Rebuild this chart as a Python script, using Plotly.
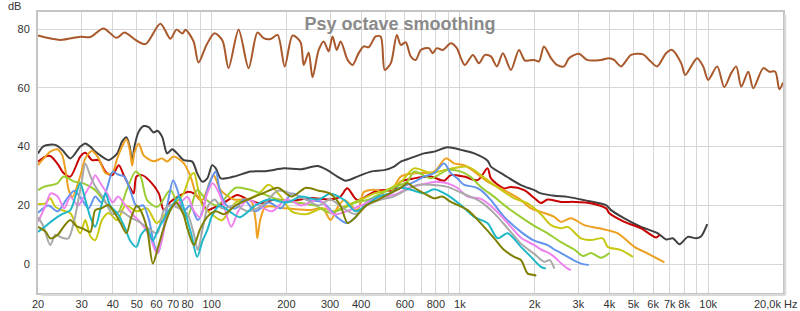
import math
import plotly.graph_objects as go

# ---------------- data (Hz, dB) ----------------
brown_f = [20, 24.6, 29.6, 32.5, 36.7, 41.4, 44.6, 49.4, 54.2, 62.2, 68.3, 72.2, 76.4, 78.5, 84.6, 88.6, 95.4, 102.8, 110.7, 117,
           128.5, 141, 153, 162, 173, 184.5, 197, 212, 228, 235, 246, 255, 270, 283, 296, 307, 319, 331, 353, 370,
           391, 410, 429, 458, 480, 498, 527, 557, 578, 605, 634, 664, 696, 750, 778, 807, 854, 919, 972, 1009,
           1047, 1128, 1193, 1261, 1333, 1409, 1490, 1605, 1729, 1828, 1987, 2082, 2180, 2326, 2460, 2626, 2750, 3018, 3250, 3702,
           3988, 4176, 4457, 4890, 5466, 5780, 6224, 6766, 7154, 7780, 8072, 8536, 9024, 9540, 9994, 10868, 11598, 12374, 12964, 13580,
           14494, 15180, 16660, 17612, 18622, 19326, 20000]
brown_db = [77.8, 76.3, 77.4, 77.3, 80.2, 77.0, 78.8, 76.3, 74.9, 81.8, 76.7, 79.8, 78.5, 79.8, 75.8, 68.6, 74.6, 78.6, 76.0, 66.7,
            79.8, 66.7, 78.8, 76.9, 76.6, 78.0, 67.3, 77.8, 75.6, 67.8, 72.0, 63.6, 72.9, 75.8, 72.4, 77.5, 72.9, 75.8, 69.5, 67.8,
            71.8, 74.1, 73.8, 77.5, 77.4, 66.1, 68.4, 78.0, 74.6, 75.5, 70.7, 69.5, 72.9, 73.5, 71.8, 73.5, 72.9, 75.2, 73.5, 70.1,
            67.8, 71.2, 68.4, 71.2, 70.7, 67.3, 71.8, 66.1, 72.9, 69.3, 69.5, 69.0, 74.1, 70.1, 67.8, 67.3, 70.1, 71.6, 69.5, 69.5,
            70.1, 69.5, 67.3, 71.2, 71.4, 69.5, 67.3, 71.8, 72.9, 68.4, 64.4, 67.3, 70.1, 67.3, 62.7, 67.3, 60.2, 65.0, 67.3, 60.4,
            65.5, 59.9, 66.7, 65.5, 65.5, 59.5, 61.8]

dark_f = [20, 21.1, 23.5, 25.0, 27.0, 29.6, 31.0, 32.5, 34.0, 36.2, 38.5, 41.7, 43.6, 45.4, 46.8, 47.9, 48.9, 50.9, 53.3, 55.8,
          58.5, 60.4, 63.2, 66.2, 69.4, 72.7, 77.3, 83.6, 87.5, 91.7, 96.1, 100.6, 104, 109, 123, 143.6, 167.6, 195.6, 228, 266.7,
          292.6, 321, 346.8, 386.6, 437.7, 495, 543, 578, 615, 717, 787, 892, 1009, 1142, 1293, 1333, 1508, 1761, 1993, 2120,
          2399, 2718, 3170, 3878, 4063, 4594, 5366, 6267, 6766, 7202, 7656, 8278, 8942, 9368, 9905]
dark_db = [37.7, 40.2, 40.6, 38.9, 36.0, 40.0, 41.1, 40.0, 38.3, 36.6, 35.4, 37.7, 41.7, 43.2, 40.0, 34.9, 40.0, 45.1, 47.0, 46.6,
           44.8, 45.4, 43.4, 37.7, 39.1, 37.7, 35.4, 34.9, 30.9, 28.1, 29.2, 33.7, 32.6, 29.2, 29.8, 31.5, 31.7, 32.6, 32.3, 33.4,
           32.0, 29.8, 28.4, 29.8, 31.5, 32.0, 33.2, 34.9, 35.7, 37.7, 38.3, 39.8, 38.9, 37.7, 35.2, 33.2, 30.3, 26.9, 25.2, 24.1,
           23.3, 22.9, 21.8, 20.1, 18.4, 15.6, 12.7, 10.5, 8.4, 8.8, 6.8, 9.3, 8.8, 9.5, 13.6]

red_f = [20, 21.4, 22.4, 23.9, 25.4, 27.0, 29.6, 31.0, 33.0, 35.1, 37.4, 39.8, 42.3, 44.3, 47.1, 48.6, 49.8, 52.5, 56.7, 61.3,
         64.2, 68.3, 75.0, 79.8, 84.8, 90.2, 96.1, 103.7, 115, 127, 140, 157.6, 180, 210, 250, 300, 330, 352, 386.6, 451,
         495, 540, 578, 654, 764, 864, 919, 1040, 1179, 1293, 1333, 1508, 1605, 1816, 1993, 2120, 2256, 2553, 2888, 3271,
         3878, 4000, 4594, 5366, 6166, 6360]
red_db = [34.9, 36.6, 36.8, 34.3, 30.9, 29.8, 36.6, 37.9, 35.4, 35.4, 31.5, 30.3, 33.7, 30.3, 25.8, 24.1, 29.8, 30.3, 28.1, 24.1,
          18.4, 21.2, 23.5, 24.6, 24.1, 21.8, 18.4, 19.5, 21.5, 23.5, 22, 20.7, 22, 21.5, 22.5, 22, 23, 25.8, 21.8, 24.6,
          25.2, 25, 28.1, 29.2, 29.8, 28.4, 30.3, 29.8, 28.6, 32.6, 29.2, 25.8, 26.3, 25.2, 22.5, 20.8, 22.0, 21.2, 21.2, 20.9,
          19.0, 17.3, 14.4, 12.2, 9.1, 9.9]

orange_f = [20, 21.4, 22.4, 23.9, 25.0, 25.8, 26.6, 27.5, 29.6, 31.0, 33.0, 35.1, 37.4, 39.8, 41.7, 43.6, 45.4, 46.8, 47.9, 48.9,
            50.9, 53.3, 58.5, 63.2, 66.2, 70.4, 77.3, 82.3, 87.5, 91.7, 99.0, 102, 108.7, 123, 143.6, 150.4, 152.8, 157, 165, 200,
            250.6, 280, 301.7, 320, 341.5, 386.6, 411, 465.6, 511, 578, 654, 787, 878, 948, 1040, 1142, 1293, 1508, 1761, 1933,
            2120, 2399, 2553, 2802, 3170, 3644, 4322, 5042, 5709, 6661]
orange_db = [33.7, 36.6, 38.3, 39.1, 37.2, 32, 25.2, 22.9, 30, 36, 38.5, 36, 31, 31, 36, 40, 42.5, 39, 33.5, 38,
             41, 37, 35, 36, 34.9, 36.6, 34.3, 29.8, 22.9, 21.8, 28.6, 30.3, 25.2, 22, 21.8, 15, 8.8, 15, 19.5, 19,
             18.4, 19, 15, 19, 21.8, 18.4, 24.6, 25.2, 22.9, 29.8, 30.9, 31.5, 36, 34.3, 33.7, 31.5, 28.1, 25.2, 21.8, 19,
             17.8, 16.1, 14.4, 15.6, 13.3, 12.2, 10.5, 5.9, 3.6, 0.6]

yellow_f = [20, 21.4, 22.4, 23.5, 25, 27, 29.6, 31, 32.5, 34, 36.2, 38.5, 41.7, 45, 50, 55, 60, 65, 70, 77,
            82, 85, 88, 92, 100, 110, 125, 140, 155, 170, 190, 210, 240, 280, 310, 350, 400, 450, 500, 578,
            654, 764, 864, 1074, 1215, 1375, 1655, 1875, 2120, 2326, 2553, 2718, 3075, 3373, 3761, 3940, 4457, 4970]
yellow_db = [20.5, 20.7, 22.4, 19.5, 18.4, 17.3, 10.5, 15, 9.5, 8.2, 15, 17.4, 15, 20, 18, 19, 14, 17, 20, 24,
             30, 31, 26, 20, 17, 15, 21, 22, 24, 27, 23, 18, 17, 19, 18, 20, 22, 24, 25, 28,
             32.6, 31, 32, 33.2, 30.3, 26.9, 22.4, 20.7, 17, 13.3, 12.2, 12.7, 8.8, 8.2, 8.8, 5.9, 4.8, 2.5]

green_f = [20, 21.1, 23.9, 25.4, 28, 30.5, 34, 36.7, 41.7, 45.5, 49.4, 51.8, 55, 60.4, 68.3, 72.7, 79.8, 87.5, 95, 105,
           125, 140, 160, 185, 220, 260, 300, 340, 380, 430, 480, 540, 578, 615, 654, 764, 892, 1009, 1100, 1215,
           1375, 1540, 1761, 1993, 2256, 2553, 2888, 3125, 3373, 3702, 4000]
green_db = [25.2, 26.3, 27.5, 29.8, 28.1, 27.5, 25.2, 21.8, 17.3, 25.2, 31.5, 29.8, 21.8, 19.5, 25.2, 20.7, 16.1, 25.2, 22, 20,
            26, 25.5, 24, 22, 21, 20, 17.5, 19, 21, 22, 24, 26, 27, 28.1, 31.5, 29.2, 32, 31.5, 29.8, 26.3,
            22.9, 19.5, 16, 13, 10.5, 7.5, 5, 2.8, 3.8, 2.2, 3.8]

blue_f = [20, 22, 24, 26, 28, 30, 32, 34, 36, 38, 40, 42, 44.5, 47, 50, 53, 56, 59, 61, 64,
          67, 70, 73, 77, 82, 88, 92, 96, 101, 104, 108, 115, 125, 135, 150, 170, 190, 210, 240, 280,
          320, 350, 380, 420, 470, 520, 578, 654, 717, 787, 864, 919, 975, 1040, 1142, 1215, 1333, 1508, 1761, 1993,
          2256, 2399, 2553, 2718, 2888, 3075, 3300]
blue_db = [17.5, 20, 18, 22, 25, 22, 19, 23, 21, 26, 31.5, 30.5, 29.8, 25.2, 19.5, 20, 15, 6, 4, 12,
           22, 28.6, 25, 18, 20, 15, 18, 25, 30, 31.5, 25, 20, 19, 22, 18, 21, 19, 24, 22, 21,
           16, 14, 16, 21, 23, 24, 26, 28, 29.8, 31, 34.3, 31, 29.2, 27, 26.3, 25.2, 21.8, 16.1, 11, 8,
           6.5, 5, 3.8, 2.5, 1.2, 0.2, -0.3]

pink_f = [20, 21.5, 22.5, 24, 25.5, 27, 29, 31, 33, 34, 36, 38, 40, 42, 45, 48, 52, 56, 60.4, 63,
          66, 70, 75, 80, 85, 90, 96, 101, 106, 112, 120, 128, 140, 155, 175, 200, 230, 270, 310, 350,
          400, 450, 500, 560, 620, 700, 787, 892, 975, 1075, 1215, 1375, 1557, 1761, 1993, 2120, 2256, 2399, 2553, 2718,
          2800]
pink_db = [14.4, 20, 24.1, 23, 19, 22.9, 20, 24, 28, 30.3, 27, 24, 21, 23, 20, 17, 14, 10, 3.6, 8,
           16, 20, 21, 22.9, 18, 16, 24, 27.5, 25, 20, 12.7, 18, 22, 20, 18, 22, 20, 22, 17, 18,
           20, 22, 23, 24, 26, 27, 28, 27.5, 26, 23, 22.2, 18.8, 14, 9, 6.5, 5, 4, 2.5, 0.3, -1.5,
           -2]

gray_f = [20, 21, 22.4, 23.5, 25, 26.5, 28, 30, 31, 32.5, 34, 37, 40, 43, 47, 52, 56, 60.4, 64, 68,
          74, 80, 85, 88, 92, 97, 103, 110, 125, 140, 160, 185, 210, 240, 270, 300, 340, 380, 420, 480,
          540, 600, 680, 760, 892, 1000, 1100, 1215, 1375, 1557, 1761, 1993, 2186, 2300, 2400]
gray_db = [16, 13, 6.5, 10, 9, 8.8, 15, 28, 34.3, 30, 26.5, 22, 17, 18, 16, 14, 12, 10.5, 18, 20,
           19, 17, 10, 4.8, 12, 20, 22, 19, 20, 18, 20, 25, 24, 22, 20, 22, 19, 17, 20, 22,
           23, 25, 27, 27, 26.3, 24.5, 23, 21.2, 17.3, 12.2, 7, 3.5, 0.8, 1.4, -1.5]

cyan_f = [20, 21.5, 23, 25, 27, 28.5, 29.6, 31, 32.5, 34, 36, 37.4, 39, 42, 45, 47, 49.8, 52, 55, 58,
          61, 65, 70.4, 74, 78, 83, 87.5, 92, 96.1, 101, 108, 118, 130, 150, 170, 200, 230, 270, 300, 340,
          380, 420, 470, 520, 578, 654, 717, 787, 892, 1009, 1142, 1293, 1420, 1557, 1761, 1933, 2120, 2220]
cyan_db = [11, 13, 15, 17, 18.4, 24, 27.5, 22, 16, 12.7, 20, 24.1, 20, 17, 12, 8, 5.9, 10, 12, 8,
           12, 16, 20.7, 23, 18, 10, 2.5, 8, 11.6, 17, 20, 18, 16, 20, 22, 21, 23, 22, 24, 22,
           18, 20, 23, 24, 26, 25, 24.1, 25.5, 23.5, 20.1, 16.1, 13.9, 8.8, 10.5, 5.9, 2.5, -0.9, -1.5]

olive_f = [20, 21.5, 22.4, 24, 25.5, 27, 28.5, 30.5, 32.5, 34, 36, 38.5, 41, 43, 45.4, 47.5, 50, 52, 55, 58,
           61, 64, 68.3, 72, 77, 80, 84.8, 90, 96.1, 104, 112, 125, 140, 160, 185, 210, 240, 270, 300, 330,
           353, 380, 420, 470, 520, 578, 615, 654, 720, 787, 850, 919, 1074, 1215, 1375, 1508, 1655, 1761, 1875, 1993,
           2030]
olive_db = [12.7, 11, 8.8, 10, 13, 15, 13, 12, 11, 18.4, 19, 20.1, 17, 14, 10.5, 16, 20, 18, 12, 0.2,
            6, 12, 18.4, 21, 17, 12, 6.5, 12, 16.1, 18, 17, 20, 22, 24, 26, 23, 26, 25, 24, 20,
            14, 16, 20, 22, 24, 26, 27.5, 26, 24, 22.4, 23, 21.2, 18.4, 13.9, 8.8, 4.8, 2.5, 1.4, -3.2, -3.7,
            -4]

x_grid_vals = [20, 30, 40, 50, 60, 70, 80, 90, 100, 200, 300, 400, 500, 600, 700, 800, 900,
               1000, 2000, 3000, 4000, 5000, 6000, 7000, 8000, 9000, 10000]
x_grid_text = ["20", "30", "40", "50", "60", "70", "80", "", "100", "200", "300", "400", "", "600", "", "800", "",
               "1k", "2k", "3k", "4k", "5k", "6k", "7k", "8k", "", "10k"]
y_tick_vals = [0, 20, 40, 60, 80]

series = [
    (brown_f, brown_db, "#a8582a"),
    (dark_f, dark_db, "#404040"),
    (red_f, red_db, "#c80000"),
    (orange_f, orange_db, "#eea020"),
    (yellow_f, yellow_db, "#c8c810"),
    (green_f, green_db, "#9acd32"),
    (blue_f, blue_db, "#6495ed"),
    (pink_f, pink_db, "#ee82ee"),
    (gray_f, gray_db, "#a9a9a9"),
    (cyan_f, cyan_db, "#1eb8c8"),
    (olive_f, olive_db, "#808000"),
]

fig = go.Figure()
for f, d, c in series:
    fig.add_trace(go.Scatter(x=f, y=d, mode="lines",
                             line=dict(color=c, width=2, shape="spline", smoothing=0.8),
                             hoverinfo="skip", showlegend=False))

FONT = "Liberation Sans, Arial, sans-serif"
fig.update_layout(
    width=800, height=311,
    margin=dict(l=38, r=17, t=12, b=18, autoexpand=False),
    paper_bgcolor="white", plot_bgcolor="white",
    showlegend=False,
    font=dict(family=FONT, size=11, color="#333333"),
    title=dict(text="<b>Psy octave smoothing</b>", x=0.5, xref="container", xanchor="center",
               y=1 - 24 / 311, yref="container", yanchor="middle",
               font=dict(family=FONT, size=18, color="#8a8a8a")),
    shapes=[
        # soft drop shadow along the right and bottom edges of the plot frame
        dict(type="line", xref="paper", yref="paper", x0=1.003, x1=1.003, y0=-0.007, y1=0.99,
             line=dict(color="#dadada", width=2)),
        dict(type="line", xref="paper", yref="paper", x0=0.004, x1=1.003, y0=-0.007, y1=-0.007,
             line=dict(color="#dadada", width=2)),
    ],
)
fig.update_xaxes(type="log", range=[math.log10(20), math.log10(20000)], automargin=False,
                 tickmode="array", tickvals=x_grid_vals, ticktext=x_grid_text,
                 showgrid=True, gridcolor="#d6d6d6", gridwidth=1,
                 showline=True, linecolor="#c4c4c4", linewidth=2, mirror=True,
                 ticks="", zeroline=False, tickfont=dict(size=11, color="#333333"))
fig.update_yaxes(range=[-9.8, 85.8], tickmode="array", tickvals=y_tick_vals, automargin=False,
                 showgrid=True, gridcolor="#d6d6d6", gridwidth=1,
                 showline=True, linecolor="#c4c4c4", linewidth=2, mirror=True,
                 ticks="", zeroline=False, tickfont=dict(size=11, color="#333333"),
                 ticklabelstandoff=4)
fig.add_annotation(text="dB", xref="paper", yref="paper", x=0, y=1, xanchor="right", yanchor="middle",
                   xshift=-15, yshift=6, showarrow=False, font=dict(family=FONT, size=11, color="#333333"))
fig.add_annotation(text="20,0k Hz", xref="paper", yref="paper", x=1, y=0, xanchor="right", yanchor="top",
                   xshift=16, yshift=-3, showarrow=False, font=dict(family=FONT, size=11, color="#333333"))

fig.write_html("out.html")
